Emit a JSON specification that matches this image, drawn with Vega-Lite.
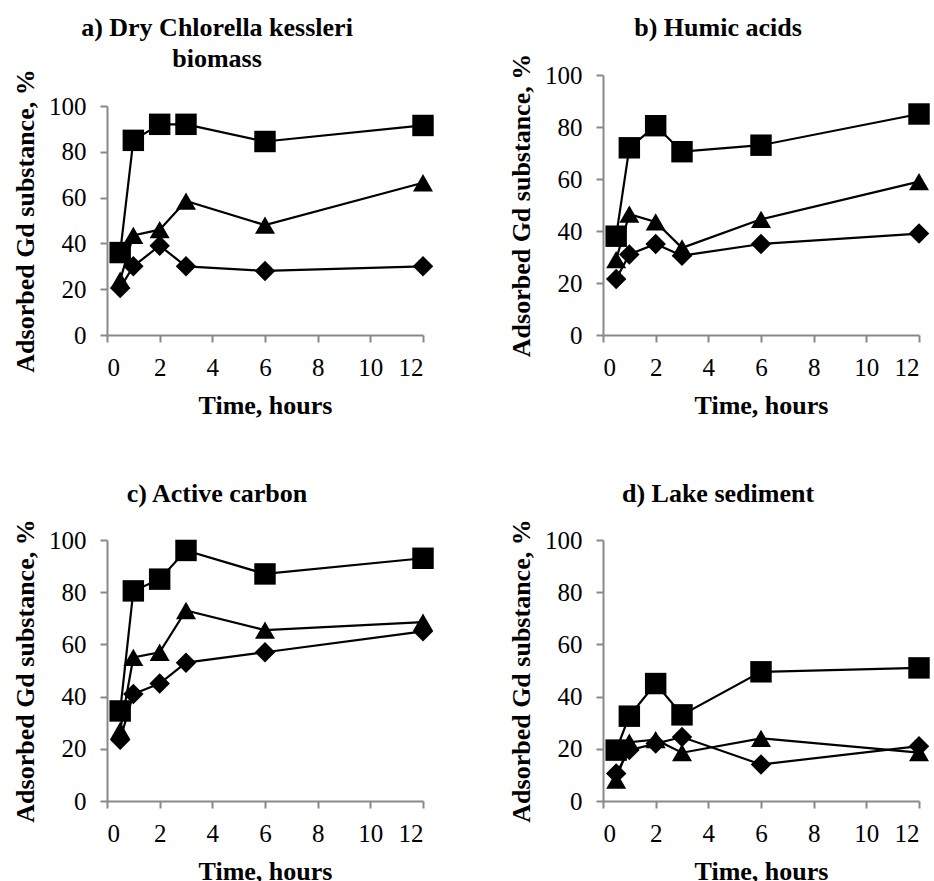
{
  "$schema": "https://vega.github.io/schema/vega-lite/v6.json",
  "background": "white",
  "padding": {"left": 12, "top": 14, "right": 5, "bottom": 5},
  "config": {
    "view": {"stroke": null},
    "font": "Liberation Serif",
    "axis": {
      "grid": false,
      "domainColor": "#898989",
      "domainWidth": 2,
      "tickColor": "#898989",
      "tickWidth": 2,
      "tickSize": 7,
      "labelFont": "Liberation Serif",
      "labelFontSize": 25,
      "labelColor": "black",
      "titleFont": "Liberation Serif",
      "titleFontSize": 26,
      "titleFontWeight": "bold",
      "titleColor": "black"
    },
    "axisX": {"labelPadding": 13, "titlePadding": 12, "values": [0, 2, 4, 6, 8, 10, 12]},
    "axisY": {"labelPadding": 14, "titlePadding": 10, "values": [0, 20, 40, 60, 80, 100]},
    "title": {
      "font": "Liberation Serif",
      "fontSize": 26,
      "fontWeight": "bold",
      "color": "black",
      "anchor": "middle",
      "dx": -43,
      "lineHeight": 31
    }
  },
  "data": {
    "values": [
      {"p": "a", "s": "di", "t": 0.5, "v": 20.5}, {"p": "a", "s": "di", "t": 1, "v": 30}, {"p": "a", "s": "di", "t": 2, "v": 39}, {"p": "a", "s": "di", "t": 3, "v": 30}, {"p": "a", "s": "di", "t": 6, "v": 28}, {"p": "a", "s": "di", "t": 12, "v": 30},
      {"p": "a", "s": "tr", "t": 0.5, "v": 24}, {"p": "a", "s": "tr", "t": 1, "v": 43.5}, {"p": "a", "s": "tr", "t": 2, "v": 46}, {"p": "a", "s": "tr", "t": 3, "v": 58.5}, {"p": "a", "s": "tr", "t": 6, "v": 48}, {"p": "a", "s": "tr", "t": 12, "v": 66.5},
      {"p": "a", "s": "sq", "t": 0.5, "v": 36}, {"p": "a", "s": "sq", "t": 1, "v": 85}, {"p": "a", "s": "sq", "t": 2, "v": 92}, {"p": "a", "s": "sq", "t": 3, "v": 92}, {"p": "a", "s": "sq", "t": 6, "v": 84.5}, {"p": "a", "s": "sq", "t": 12, "v": 91.5},
      {"p": "b", "s": "di", "t": 0.5, "v": 21.5}, {"p": "b", "s": "di", "t": 1, "v": 31}, {"p": "b", "s": "di", "t": 2, "v": 35}, {"p": "b", "s": "di", "t": 3, "v": 30.5}, {"p": "b", "s": "di", "t": 6, "v": 35}, {"p": "b", "s": "di", "t": 12, "v": 39},
      {"p": "b", "s": "tr", "t": 0.5, "v": 29}, {"p": "b", "s": "tr", "t": 1, "v": 46.5}, {"p": "b", "s": "tr", "t": 2, "v": 43.5}, {"p": "b", "s": "tr", "t": 3, "v": 33.5}, {"p": "b", "s": "tr", "t": 6, "v": 44.5}, {"p": "b", "s": "tr", "t": 12, "v": 59},
      {"p": "b", "s": "sq", "t": 0.5, "v": 38}, {"p": "b", "s": "sq", "t": 1, "v": 72}, {"p": "b", "s": "sq", "t": 2, "v": 80.5}, {"p": "b", "s": "sq", "t": 3, "v": 70.5}, {"p": "b", "s": "sq", "t": 6, "v": 73}, {"p": "b", "s": "sq", "t": 12, "v": 85},
      {"p": "c", "s": "di", "t": 0.5, "v": 23.5}, {"p": "c", "s": "di", "t": 1, "v": 41}, {"p": "c", "s": "di", "t": 2, "v": 45}, {"p": "c", "s": "di", "t": 3, "v": 53}, {"p": "c", "s": "di", "t": 6, "v": 57}, {"p": "c", "s": "di", "t": 12, "v": 65},
      {"p": "c", "s": "tr", "t": 0.5, "v": 27}, {"p": "c", "s": "tr", "t": 1, "v": 55}, {"p": "c", "s": "tr", "t": 2, "v": 57}, {"p": "c", "s": "tr", "t": 3, "v": 73}, {"p": "c", "s": "tr", "t": 6, "v": 65.5}, {"p": "c", "s": "tr", "t": 12, "v": 68.5},
      {"p": "c", "s": "sq", "t": 0.5, "v": 34.5}, {"p": "c", "s": "sq", "t": 1, "v": 80.5}, {"p": "c", "s": "sq", "t": 2, "v": 85}, {"p": "c", "s": "sq", "t": 3, "v": 96}, {"p": "c", "s": "sq", "t": 6, "v": 87}, {"p": "c", "s": "sq", "t": 12, "v": 93},
      {"p": "d", "s": "di", "t": 0.5, "v": 10.5}, {"p": "d", "s": "di", "t": 1, "v": 19.5}, {"p": "d", "s": "di", "t": 2, "v": 22}, {"p": "d", "s": "di", "t": 3, "v": 24.5}, {"p": "d", "s": "di", "t": 6, "v": 14}, {"p": "d", "s": "di", "t": 12, "v": 21},
      {"p": "d", "s": "tr", "t": 0.5, "v": 8}, {"p": "d", "s": "tr", "t": 1, "v": 22.5}, {"p": "d", "s": "tr", "t": 2, "v": 23.5}, {"p": "d", "s": "tr", "t": 3, "v": 18.5}, {"p": "d", "s": "tr", "t": 6, "v": 24}, {"p": "d", "s": "tr", "t": 12, "v": 18.5},
      {"p": "d", "s": "sq", "t": 0.5, "v": 19.5}, {"p": "d", "s": "sq", "t": 1, "v": 32.5}, {"p": "d", "s": "sq", "t": 2, "v": 45}, {"p": "d", "s": "sq", "t": 3, "v": 33}, {"p": "d", "s": "sq", "t": 6, "v": 49.5}, {"p": "d", "s": "sq", "t": 12, "v": 51}
    ]
  },
  "columns": 2,
  "spacing": {"row": 62, "column": 74},
  "concat": [
    {
      "title": {"text": ["a) Dry Chlorella kessleri", "biomass"], "offset": -3, "dx": -48},
      "width": 316,
      "height": 260,
      "transform": [{"filter": "datum.p === 'a'"}],
      "encoding": {
        "x": {"field": "t", "type": "quantitative", "scale": {"domain": [0, 12], "nice": false}, "title": "Time, hours"},
        "y": {"field": "v", "type": "quantitative", "scale": {"domain": [0, 100], "nice": false, "range": [260, 31]}, "title": "Adsorbed Gd substance, %"}
      },
      "layer": [
        {"mark": {"type": "line", "color": "black", "strokeWidth": 2.2}, "encoding": {"detail": {"field": "s"}}},
        {"transform": [{"filter": "datum.s === 'tr'"}], "mark": {"type": "point", "shape": "triangle-up", "filled": true, "color": "black", "opacity": 1, "size": 400}},
        {"transform": [{"filter": "datum.s === 'di'"}], "mark": {"type": "point", "shape": "diamond", "filled": true, "color": "black", "opacity": 1, "size": 420}},
        {"transform": [{"filter": "datum.s === 'sq'"}], "mark": {"type": "point", "shape": "square", "filled": true, "color": "black", "opacity": 1, "size": 460}}
      ]
    },
    {
      "title": {"text": "b) Humic acids", "offset": 12},
      "width": 316,
      "height": 260,
      "transform": [{"filter": "datum.p === 'b'"}],
      "encoding": {
        "x": {"field": "t", "type": "quantitative", "scale": {"domain": [0, 12], "nice": false}, "title": "Time, hours"},
        "y": {"field": "v", "type": "quantitative", "scale": {"domain": [0, 100], "nice": false}, "title": "Adsorbed Gd substance, %"}
      },
      "layer": [
        {"mark": {"type": "line", "color": "black", "strokeWidth": 2.2}, "encoding": {"detail": {"field": "s"}}},
        {"transform": [{"filter": "datum.s === 'tr'"}], "mark": {"type": "point", "shape": "triangle-up", "filled": true, "color": "black", "opacity": 1, "size": 400}},
        {"transform": [{"filter": "datum.s === 'di'"}], "mark": {"type": "point", "shape": "diamond", "filled": true, "color": "black", "opacity": 1, "size": 420}},
        {"transform": [{"filter": "datum.s === 'sq'"}], "mark": {"type": "point", "shape": "square", "filled": true, "color": "black", "opacity": 1, "size": 460}}
      ]
    },
    {
      "title": {"text": "c) Active carbon", "offset": 12, "dx": -48},
      "width": 316,
      "height": 261,
      "transform": [{"filter": "datum.p === 'c'"}],
      "encoding": {
        "x": {"field": "t", "type": "quantitative", "scale": {"domain": [0, 12], "nice": false}, "title": "Time, hours"},
        "y": {"field": "v", "type": "quantitative", "scale": {"domain": [0, 100], "nice": false}, "title": "Adsorbed Gd substance, %"}
      },
      "layer": [
        {"mark": {"type": "line", "color": "black", "strokeWidth": 2.2}, "encoding": {"detail": {"field": "s"}}},
        {"transform": [{"filter": "datum.s === 'tr'"}], "mark": {"type": "point", "shape": "triangle-up", "filled": true, "color": "black", "opacity": 1, "size": 400}},
        {"transform": [{"filter": "datum.s === 'di'"}], "mark": {"type": "point", "shape": "diamond", "filled": true, "color": "black", "opacity": 1, "size": 420}},
        {"transform": [{"filter": "datum.s === 'sq'"}], "mark": {"type": "point", "shape": "square", "filled": true, "color": "black", "opacity": 1, "size": 460}}
      ]
    },
    {
      "title": {"text": "d) Lake sediment", "offset": 12},
      "width": 316,
      "height": 261,
      "transform": [{"filter": "datum.p === 'd'"}],
      "encoding": {
        "x": {"field": "t", "type": "quantitative", "scale": {"domain": [0, 12], "nice": false}, "title": "Time, hours"},
        "y": {"field": "v", "type": "quantitative", "scale": {"domain": [0, 100], "nice": false}, "title": "Adsorbed Gd substance, %"}
      },
      "layer": [
        {"mark": {"type": "line", "color": "black", "strokeWidth": 2.2}, "encoding": {"detail": {"field": "s"}}},
        {"transform": [{"filter": "datum.s === 'tr'"}], "mark": {"type": "point", "shape": "triangle-up", "filled": true, "color": "black", "opacity": 1, "size": 400}},
        {"transform": [{"filter": "datum.s === 'di'"}], "mark": {"type": "point", "shape": "diamond", "filled": true, "color": "black", "opacity": 1, "size": 420}},
        {"transform": [{"filter": "datum.s === 'sq'"}], "mark": {"type": "point", "shape": "square", "filled": true, "color": "black", "opacity": 1, "size": 460}}
      ]
    }
  ]
}
